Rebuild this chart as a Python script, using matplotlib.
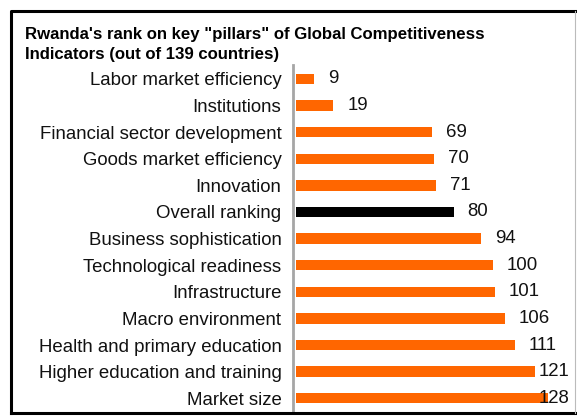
import matplotlib
matplotlib.use("Agg")
import matplotlib.pyplot as plt
from matplotlib.lines import Line2D

plt.rcParams['font.family'] = ['Liberation Sans', 'DejaVu Sans']

categories = [
    "Labor market efficiency",
    "Institutions",
    "Financial sector development",
    "Goods market efficiency",
    "Innovation",
    "Overall ranking",
    "Business sophistication",
    "Technological readiness",
    "Infrastructure",
    "Macro environment",
    "Health and primary education",
    "Higher education and training",
    "Market size",
]
ranks = [9, 19, 69, 70, 71, 80, 94, 100, 101, 106, 111, 121, 128]
highlight = "Overall ranking"
title_lines = ["Rwanda's rank on key \"pillars\" of Global Competitiveness",
               "Indicators (out of 139 countries)"]

ORANGE = "#FF6600"
W, H = 577, 417
fig = plt.figure(figsize=(W / 100, H / 100), dpi=100)

# plot area in pixel coordinates
x0, x1, ytop, ybot = 296, 574, 65, 412
ax = fig.add_axes([x0 / W, 1 - ybot / H, (x1 - x0) / W, (ybot - ytop) / H])

ypos = list(range(len(categories)))
colors = ["black" if c == highlight else ORANGE for c in categories]
ax.barh(ypos, ranks, height=0.39, color=colors, edgecolor="none")

xmax = 141
ax.set_xlim(0, xmax)
ax.set_ylim(len(categories) - 0.485, -0.52)

for s in ["top", "right", "bottom"]:
    ax.spines[s].set_visible(False)
ax.spines["left"].set_color("#A6A6A6")
ax.spines["left"].set_linewidth(2.0)
ax.spines["left"].set_position(("outward", 2.5))
ax.set_xticks([])
ax.set_yticks(ypos)
ax.set_yticklabels(categories, fontsize=13.4, color="#111111")
ax.tick_params(axis="y", length=0, pad=8)

for y, v in zip(ypos, ranks):
    if v > 118:
        ax.annotate(str(v), (xmax, y), xytext=(-3, 0), textcoords="offset points",
                    ha="right", va="center", fontsize=13.4, color="#111111")
    else:
        ax.annotate(str(v), (v, y), xytext=(10, 0), textcoords="offset points",
                    ha="left", va="center", fontsize=13.4, color="#111111")

for i, line in enumerate(title_lines):
    fig.text(25 / W, 1 - (38.7 + 20.5 * i) / H, line,
             fontsize=12.1, fontweight="bold", ha="left", va="baseline")

# outer frame
L, T, B, R = 10.5 / W, 1 - 10.5 / H, 1 - 412.5 / H, 574.5 / W
fig.add_artist(Line2D([L, L, R], [B, T, T], transform=fig.transFigure, color="black", lw=2.2))
fig.add_artist(Line2D([L, R], [B, B], transform=fig.transFigure, color="black", lw=2.2))
fig.add_artist(Line2D([R, R], [B, T], transform=fig.transFigure, color="#BBBBBB", lw=0.8))

fig.savefig("out.png", dpi=100)
